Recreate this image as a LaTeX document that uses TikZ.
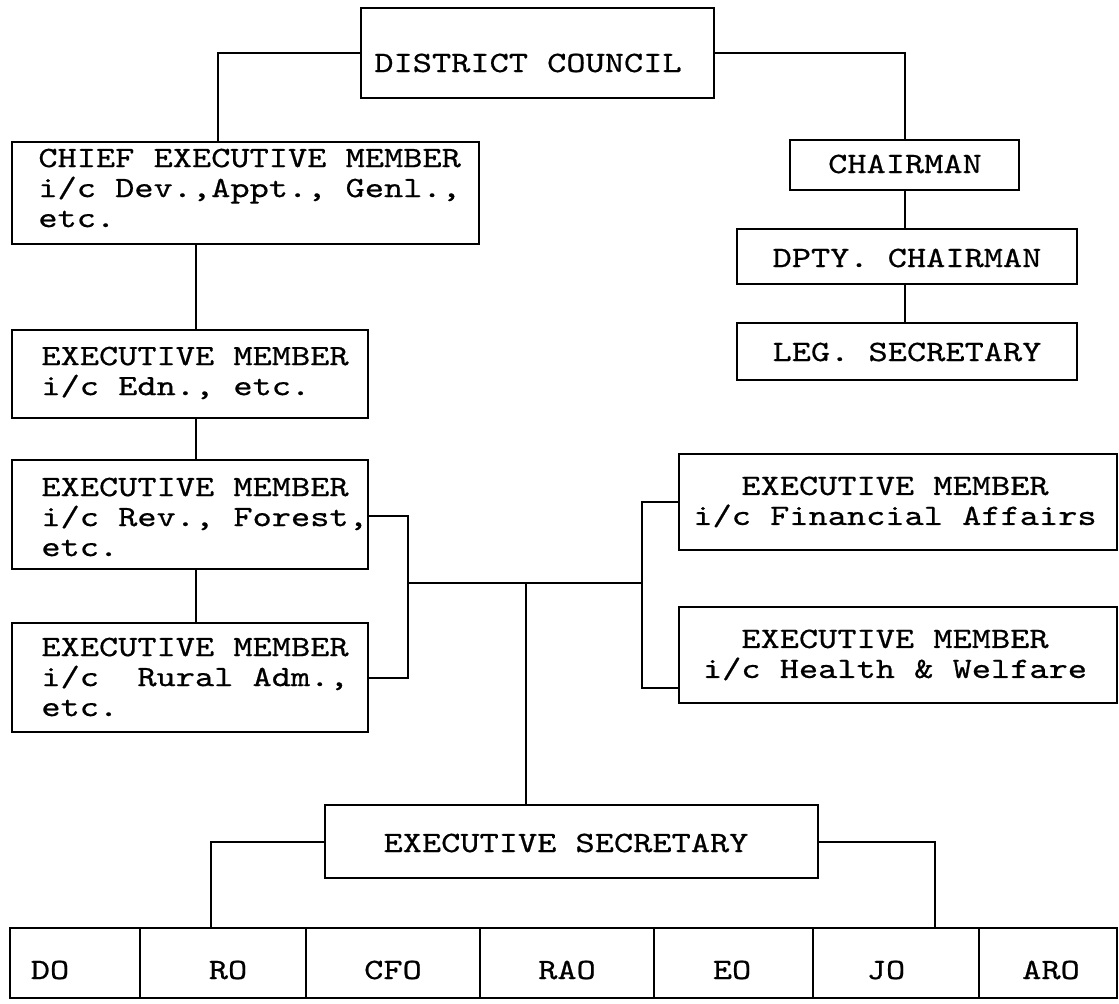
\documentclass[tikz,border=0pt]{standalone}
\usepackage{fontspec}
\newfontfamily\tw{lmmono10-regular.otf}[FakeStretch=1.24,FakeBold=0.6]
\usetikzlibrary{fit}
\begin{document}
\begin{tikzpicture}[x=0.5pt,y=-0.5pt,
  bx/.style={draw, line width=1pt, inner sep=0pt},
  conn/.style={draw, line width=1pt},
  txt/.style={inner sep=0pt, font=\tw\fontsize{14.75}{15}\selectfont\frenchspacing}]
\useasboundingbox (0,0) rectangle (1119,1004);
% boxes
\node[bx, fit={(361,8) (714,98)}] (DC) {};
\node[bx, fit={(12,142) (479,244)}] (CEM) {};
\node[bx, fit={(790,140) (1019,190)}] (CH) {};
\node[bx, fit={(737,229) (1077,284)}] (DP) {};
\node[bx, fit={(737,323) (1077,380)}] (LG) {};
\node[bx, fit={(12,330) (368,418)}] (ED) {};
\node[bx, fit={(12,460) (368,569)}] (RV) {};
\node[bx, fit={(12,623) (368,732)}] (RU) {};
\node[bx, fit={(679,454) (1117,550)}] (FN) {};
\node[bx, fit={(679,607) (1117,703)}] (HL) {};
\node[bx, fit={(325,805) (818,878)}] (ES) {};
\node[bx, fit={(10,928) (140,998)}] (DO) {};
\node[bx, fit={(140,928) (306,998)}] (RO) {};
\node[bx, fit={(306,928) (480,998)}] (CFO) {};
\node[bx, fit={(480,928) (654,998)}] (RAO) {};
\node[bx, fit={(654,928) (813,998)}] (EO) {};
\node[bx, fit={(813,928) (979,998)}] (JO) {};
\node[bx, fit={(979,928) (1117,998)}] (ARO) {};
% texts
\node[txt] (DCt) at (528,63) {DISTRICT COUNCIL};
\node[txt, anchor=west, align=left] (CEMt) at (38,188) {CHIEF EXECUTIVE MEMBER\\i/c Dev.,Appt., Genl.,\\etc.};
\node[txt] (CHt) at (905,164) {CHAIRMAN};
\node[txt] (DPt) at (907,258) {DPTY. CHAIRMAN};
\node[txt] (LGt) at (907,352) {LEG. SECRETARY};
\node[txt, anchor=west, align=left] (EDt) at (41,373) {EXECUTIVE MEMBER\\i/c Edn., etc.};
\node[txt, anchor=west, align=left] (RVt) at (41,517) {EXECUTIVE MEMBER\\i/c Rev., Forest,\\etc.};
\node[txt, anchor=west, align=left] (RUt) at (41,677) {EXECUTIVE MEMBER\\i/c\ \ Rural Adm.,\\etc.};
\node[txt, align=center] (FNt) at (895,502) {EXECUTIVE MEMBER\\i/c Financial Affairs};
\node[txt, align=center] (HLt) at (895,655) {EXECUTIVE MEMBER\\i/c Health \& Welfare};
\node[txt] (ESt) at (566,843) {EXECUTIVE SECRETARY};
\node[txt] (DOt) at (50,970) {DO};
\node[txt] (ROt) at (228,970) {RO};
\node[txt] (CFOt) at (393,970) {CFO};
\node[txt] (RAOt) at (567,970) {RAO};
\node[txt] (EOt) at (732,970) {EO};
\node[txt] (JOt) at (886,970) {JO};
\node[txt] (AROt) at (1051,970) {ARO};
% junction points
\coordinate (jL) at (408,583);
\coordinate (jR) at (642,583);
\coordinate (jM) at (526,583);
% connectors
\draw[conn] (DC.west) -| (CEM.north -| 218,0);
\draw[conn] (DC.east) -| (CH.north);
\draw[conn] (CH.south) -- (DP.north -| CH.south);
\draw[conn] (DP.south -| CH.south) -- (LG.north -| CH.south);
\draw[conn] (CEM.south -| 196,0) -- (ED.north -| 196,0);
\draw[conn] (ED.south -| 196,0) -- (RV.north -| 196,0);
\draw[conn] (RV.south -| 196,0) -- (RU.north -| 196,0);
\draw[conn] (RV.east |- 0,516) -| (jL) |- (RU.east |- 0,678);
\draw[conn] (FN.west |- 0,502) -| (jR) |- (HL.west |- 0,688);
\draw[conn] (jL) -- (jR);
\draw[conn] (jM) -- (ES.north -| jM);
\draw[conn] (ES.west) -| (RO.north -| 211,0);
\draw[conn] (ES.east) -| (JO.north -| 935,0);
\end{tikzpicture}
\end{document}
